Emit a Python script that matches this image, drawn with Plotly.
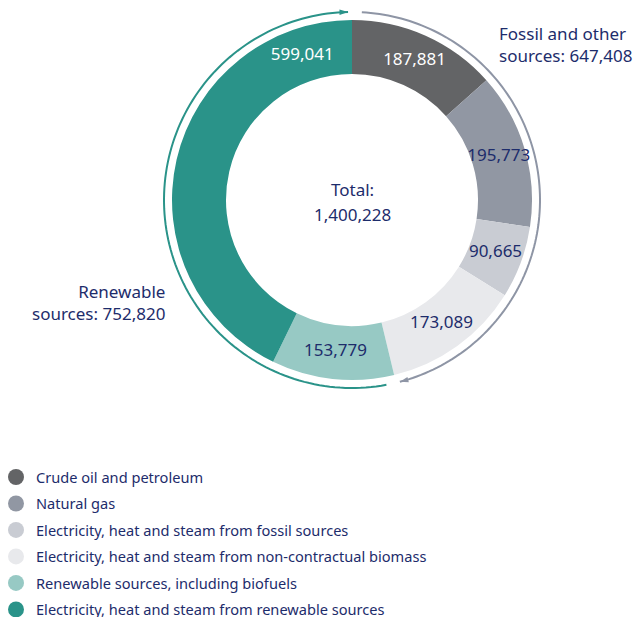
import plotly.graph_objects as go

# ---- data ----
categories = [
    "Crude oil and petroleum",
    "Natural gas",
    "Electricity, heat and steam from fossil sources",
    "Electricity, heat and steam from non-contractual biomass",
    "Renewable sources, including biofuels",
    "Electricity, heat and steam from renewable sources",
]
values = [187881, 195773, 90665, 173089, 153779, 599041]
colors = ["#636466", "#9197a3", "#c9ccd3", "#e8e9ec", "#97c9c4", "#2a9389"]
text_colors = ["#ffffff", "#1d2c6b", "#1d2c6b", "#1d2c6b", "#1d2c6b", "#ffffff"]
group_names = ["Fossil and other", "Renewable"]
group_members = [[0, 1, 2, 3], [4, 5]]
group_colors = ["#8e95a5", "#2a9389"]

NAVY = "#1d2c6b"
FONT = "Noto Sans"
W, H = 640, 617

total = sum(values)
group_totals = [sum(values[i] for i in g) for g in group_members]

# ---- geometry (pixels / radial units = pixels) ----
cx, cy = 352, 200
R_IN = 126
R_OUT = 180
R_POL = 192
R_ARC = 188
R_LABEL = 153


def xdom(r):
    return [(cx - r) / W, (cx + r) / W]


def ydom(r):
    return [1 - (cy + r) / H, 1 - (cy - r) / H]


# angles of slices from data
starts, ends = [], []
cum = 0.0
for v in values:
    starts.append(cum / total * 360)
    cum += v
    ends.append(cum / total * 360)
mids = [(a + b) / 2 for a, b in zip(starts, ends)]
widths = [b - a for a, b in zip(starts, ends)]

fig = go.Figure()

# ---- donut ring ----
fig.add_trace(go.Barpolar(
    r=[R_OUT - R_IN] * len(values), base=[R_IN] * len(values),
    theta=mids, width=widths,
    marker=dict(color=colors, line=dict(width=0)),
    customdata=[[c, v] for c, v in zip(categories, values)],
    hovertemplate="%{customdata[0]}: %{customdata[1]:,}<extra></extra>",
    showlegend=False,
))

# ---- slice value labels ----
label_theta = list(mids)
label_theta[-1] = ends[-1] - 19  # largest slice: label near top of ring
fig.add_trace(go.Scatterpolar(
    r=[R_LABEL] * len(values), theta=label_theta, mode="text",
    text=[f"{v:,}" for v in values], textposition="middle center",
    textfont=dict(family=FONT, size=17, color=text_colors),
    showlegend=False, hoverinfo="skip",
))

# ---- outer arcs with arrowheads ----
start = 0.0
gap_start = 3.0
gap_end = 1.2
for gi, g in enumerate(group_members):
    frac = group_totals[gi] / total
    a0 = start * 360 + gap_start
    a1 = (start + frac) * 360 - gap_end
    n = 120
    thetas = [a0 + (a1 - a0) * k / n for k in range(n + 1)]
    fig.add_trace(go.Scatterpolar(
        r=[R_ARC] * len(thetas), theta=thetas, mode="lines",
        line=dict(color=group_colors[gi], width=2),
        showlegend=False, hoverinfo="skip",
    ))
    fig.add_trace(go.Scatterpolar(
        r=[R_ARC], theta=[a1], mode="markers",
        marker=dict(symbol="arrow", size=9, color=group_colors[gi],
                    angle=a1 + 90, angleref="up"),
        showlegend=False, hoverinfo="skip",
    ))
    start += frac

# ---- legend entries (circle markers) ----
for i, c in enumerate(categories):
    fig.add_trace(go.Scatterpolar(
        r=[None], theta=[None], mode="markers", name=c,
        marker=dict(symbol="circle", size=16, color=colors[i]),
        legendgroup=f"g{i}", showlegend=True,
    ))

fig.update_layout(
    width=W, height=H,
    margin=dict(l=0, r=0, t=0, b=0, autoexpand=False),
    paper_bgcolor="white", plot_bgcolor="white",
    font=dict(family=FONT, color=NAVY),
    polar=dict(
        domain=dict(x=xdom(R_POL), y=ydom(R_POL)),
        bgcolor="rgba(0,0,0,0)",
        radialaxis=dict(visible=False, range=[0, R_POL]),
        angularaxis=dict(visible=False, direction="clockwise", rotation=90),
    ),
    legend=dict(
        xref="paper", yref="paper",
        x=-4 / W, xanchor="left", y=1 - 461 / H, yanchor="top",
        traceorder="grouped", tracegroupgap=4.5,
        font=dict(family=FONT, size=14.6, color=NAVY),
        bgcolor="rgba(0,0,0,0)",
    ),
    annotations=[
        dict(text="Total:", x=cx / W, y=1 - 189 / H,
             xref="paper", yref="paper", showarrow=False, yanchor="middle",
             font=dict(family=FONT, size=17, color=NAVY)),
        dict(text=f"{total:,}", x=cx / W, y=1 - 215 / H,
             xref="paper", yref="paper", showarrow=False, yanchor="middle",
             font=dict(family=FONT, size=17, color=NAVY)),
        dict(text=f"{group_names[0]}<br>sources: {group_totals[0]:,}",
             x=497 / W, y=1 - 44 / H, xref="paper", yref="paper",
             xanchor="left", yanchor="middle", align="left", showarrow=False,
             font=dict(family=FONT, size=17, color=NAVY)),
        dict(text=f"{group_names[1]}<br>sources: {group_totals[1]:,}",
             x=167 / W, y=1 - 302 / H, xref="paper", yref="paper",
             xanchor="right", yanchor="middle", align="right", showarrow=False,
             font=dict(family=FONT, size=17, color=NAVY)),
    ],
)

fig.write_html("out.html", post_script="document.body.style.margin='0';",
               config={"displayModeBar": False})
